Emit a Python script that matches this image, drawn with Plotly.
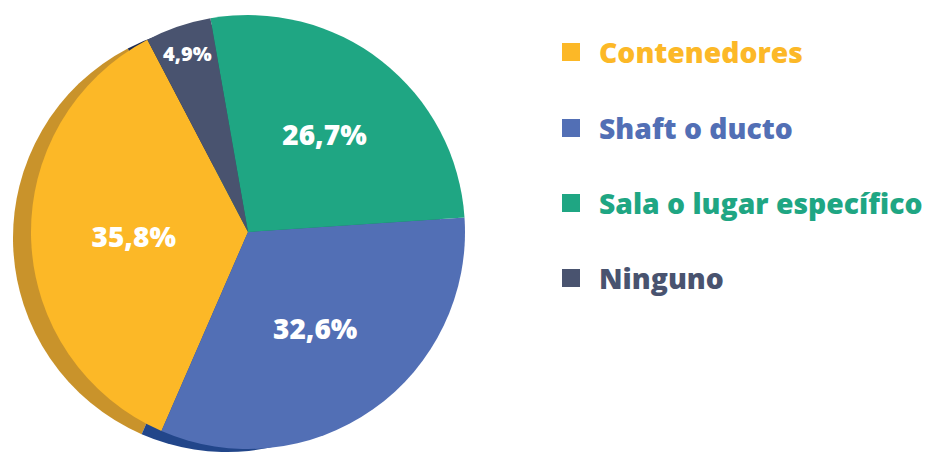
import plotly.graph_objects as go

categories = ["Contenedores", "Shaft o ducto", "Sala o lugar específico", "Ninguno"]
values = [35.8, 32.6, 26.7, 4.9]
value_labels = ["35,8%", "32,6%", "26,7%", "4,9%"]
colors = ["#FCB827", "#526FB5", "#1FA683", "#49536F"]
shadow_colors = ["#C9932B", "#22468A", "#177A62", "#1E2B50"]

W, H = 925, 452
FONT = "Open Sans"
ROT = 203.5

fig = go.Figure()

# shadow / side face (3D look)
sc_x, sc_y, sr = 227, 238, 214
fig.add_trace(go.Pie(
    labels=categories, values=values, sort=False, direction="counterclockwise",
    rotation=ROT, marker=dict(colors=shadow_colors, line=dict(width=0)),
    textinfo="none", hoverinfo="skip", showlegend=False,
    domain=dict(x=[(sc_x - sr) / W, (sc_x + sr) / W],
                y=[1 - (sc_y + sr) / H, 1 - (sc_y - sr) / H]),
))

# front face
cx, cy, r = 248, 232, 217
fig.add_trace(go.Pie(
    labels=categories, values=values, sort=False, direction="counterclockwise",
    rotation=ROT, marker=dict(colors=colors, line=dict(width=0)),
    text=value_labels, textinfo="text", textposition="inside",
    insidetextorientation="horizontal",
    insidetextfont=dict(family=FONT, size=[28, 28, 28, 20], color="white", weight=800),
    showlegend=False,
    domain=dict(x=[(cx - r) / W, (cx + r) / W],
                y=[1 - (cy + r) / H, 1 - (cy - r) / H]),
))

# custom legend
leg_y = [52, 128, 203, 278]
shapes, annotations = [], []
for cat, col, y in zip(categories, colors, leg_y):
    shapes.append(dict(type="rect", xref="paper", yref="paper",
                       x0=562 / W, x1=580 / W, y0=1 - (y + 9) / H, y1=1 - (y - 9) / H,
                       fillcolor=col, line=dict(width=0)))
    annotations.append(dict(text=cat, xref="paper", yref="paper", x=597 / W, y=1 - y / H,
                            xanchor="left", yanchor="middle", showarrow=False,
                            font=dict(family=FONT, size=28.3, color=col, weight=800)))

fig.update_layout(
    width=W, height=H, margin=dict(l=0, r=0, t=0, b=0),
    paper_bgcolor="white", plot_bgcolor="white",
    shapes=shapes, annotations=annotations,
)

fig.write_html("out.html", config={"displayModeBar": False},
               post_script="document.body.style.margin='0';")
